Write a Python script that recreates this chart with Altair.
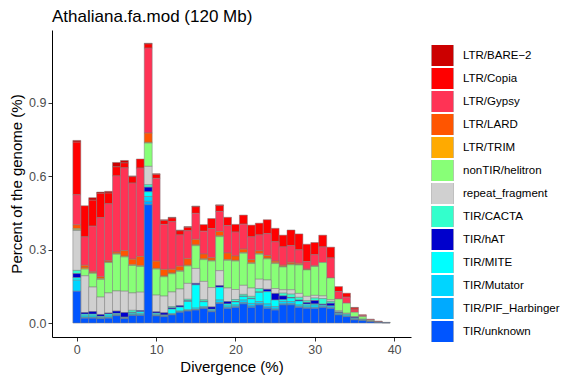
import altair as alt
import pandas as pd

categories = ["LTR/BARE−2", "LTR/Copia", "LTR/Gypsy", "LTR/LARD", "LTR/TRIM",
              "nonTIR/helitron", "repeat_fragment", "TIR/CACTA", "TIR/hAT",
              "TIR/MITE", "TIR/Mutator", "TIR/PIF_Harbinger", "TIR/unknown"]
colors = ["#CC0000", "#FF0000", "#FF3355", "#FF5500", "#FFAA00", "#88FF77",
          "#D0D0D0", "#33FFCC", "#0000CC", "#00FFFF", "#00D5FF", "#00AAFF", "#0055FF"]

divergence = list(range(40))

bare2 = [0.007,0,0.01,0.005,0.007,0.018,0.01,0.003,0,0.003,0.003,0.003,0.003,0.003,0.003,0.003,0,0,0.003,0,
         0,0,0,0,0,0,0,0,0,0,0,0,0,0,0,0.003,0,0,0.002,0]
copia = [0.215,0.127,0.106,0.1,0.044,0.037,0.02,0.026,0.037,0.017,0.016,0.016,0.015,0.017,0.014,0.027,0.027,0.041,0.024,0.034,
         0.031,0.037,0.048,0.048,0.057,0.055,0.048,0.064,0.065,0.071,0.05,0.048,0.044,0.02,0.016,0.007,0.003,0.002,0,0]
gypsy = [0.123,0.116,0.187,0.241,0.233,0.311,0.338,0.311,0.361,0.347,0.338,0.184,0.194,0.128,0.114,0.106,0.093,0.119,0.082,0.112,
         0.098,0.102,0.093,0.065,0.089,0.079,0.075,0.068,0.055,0.031,0.045,0.064,0.082,0.031,0.025,0.01,0.005,0.004,0.002,0]
lard = [0.015,0.011,0.004,0.007,0.005,0.007,0.023,0.023,0.038,0.038,0.03,0.027,0.016,0.018,0.027,0.023,0.02,0.011,0.018,0.027,
        0.018,0.014,0.013,0.011,0.011,0.007,0.005,0.007,0.005,0.003,0.003,0,0,0,0,0,0,0,0,0]
trim = [0.005,0.005,0.002,0.004,0.002,0.002,0.003,0.003,0.003,0.003,0.003,0.003,0.003,0.003,0.003,0.003,0.003,0.003,0.003,0.003,
        0.003,0.003,0.003,0.003,0.003,0.003,0.002,0.003,0.002,0,0,0,0,0,0,0,0,0,0,0]
helitron = [0.003,0.027,0.056,0.072,0.124,0.15,0.14,0.112,0.105,0.095,0.106,0.079,0.074,0.072,0.071,0.093,0.089,0.108,0.139,0.113,
            0.116,0.131,0.1,0.102,0.086,0.102,0.093,0.102,0.116,0.108,0.118,0.136,0.089,0.048,0.041,0.018,0.01,0.004,0.002,0.001]
fragment = [0.163,0.15,0.1,0.071,0.082,0.082,0.087,0.071,0.075,0.075,0.068,0.068,0.06,0.068,0.065,0.061,0.075,0.079,0.061,0.055,
            0.041,0.037,0.034,0.038,0.038,0.02,0.014,0.018,0.016,0.018,0.011,0.011,0.007,0.004,0.003,0.002,0.002,0,0,0.001]
cacta = [0.013,0,0,0,0,0,0,0.008,0,0.01,0,0,0.005,0,0.006,0,0.006,0,0,0,
         0.008,0.007,0.008,0.014,0,0,0.011,0.014,0.011,0.007,0.01,0.023,0.007,0.003,0,0.001,0,0,0,0]
hat = [0.017,0.007,0.011,0.008,0.004,0.01,0.019,0.002,0.005,0.019,0.006,0.009,0.005,0.006,0.003,0.006,0.002,0.01,0.007,0.01,
       0.002,0.002,0.002,0.002,0.01,0.027,0.016,0.002,0.004,0.007,0.014,0.004,0.011,0.003,0,0.004,0,0.001,0,0]
mite = [0.01,0.007,0.007,0.004,0.008,0.004,0.002,0.005,0.008,0.019,0.005,0.003,0.019,0.016,0.034,0.095,0.02,0.004,0.052,0.008,
        0.012,0.014,0.019,0.037,0.05,0.027,0.007,0.014,0.016,0.007,0.004,0,0,0,0.004,0,0.002,0,0,0]
mutator = [0.045,0.006,0.006,0.003,0.006,0.003,0.002,0.004,0.005,0.02,0.004,0.002,0.003,0.003,0.003,0.006,0.004,0.004,0.01,0.006,
           0.006,0.01,0.01,0.009,0.012,0.01,0.01,0.009,0.006,0.006,0.01,0.005,0.006,0.004,0.005,0.004,0.002,0,0,0]
pif = [0,0.003,0.003,0.002,0.003,0.002,0.002,0.002,0.002,0.014,0.002,0.002,0.002,0.002,0.002,0.002,0.003,0.002,0.004,0.004,
       0.004,0.006,0.006,0.005,0.006,0.004,0.004,0.005,0.004,0.004,0.004,0.004,0.004,0.003,0.002,0.002,0,0,0,0]
unknown = [0.13,0.02,0.02,0.018,0.02,0.03,0.018,0.031,0.031,0.483,0.029,0.026,0.033,0.044,0.049,0.053,0.06,0.046,0.08,0.06,
           0.064,0.078,0.064,0.074,0.06,0.053,0.074,0.074,0.064,0.06,0.06,0.064,0.06,0.033,0.026,0.013,0.01,0.005,0.002,0.001]

series = [bare2, copia, gypsy, lard, trim, helitron, fragment, cacta, hat, mite, mutator, pif, unknown]
for s in series:
    assert len(s) == len(divergence)

rows = []
for ci, (cat, vals) in enumerate(zip(categories, series)):
    for d, v in zip(divergence, vals):
        if v > 0:
            rows.append({"div": d, "cat": cat, "pct": v, "rank": len(categories) - ci})
df = pd.DataFrame(rows)

FONT = "Liberation Sans"

chart = alt.Chart(df).transform_calculate(
    x0="datum.div - 0.5", x1="datum.div + 0.5"
).mark_bar(stroke="#7a7a7a", strokeWidth=0.5).encode(
    x=alt.X("x0:Q", title="Divergence (%)",
            scale=alt.Scale(domain=[-2.5, 41.5], nice=False, zero=False),
            axis=alt.Axis(values=[0, 10, 20, 30, 40], format="d")),
    x2="x1:Q",
    y=alt.Y("sum(pct):Q", title="Percent of the genome (%)", stack="zero",
            scale=alt.Scale(domain=[-0.057, 1.197], nice=False, zero=False),
            axis=alt.Axis(values=[0, 0.3, 0.6, 0.9], format=".1f")),
    color=alt.Color("cat:N", title=None,
                    scale=alt.Scale(domain=categories, range=colors),
                    legend=alt.Legend(orient="none", legendX=379, legendY=15)),
    order=alt.Order("rank:Q", sort="ascending"),
).properties(
    width=359, height=307,
    autosize=alt.AutoSizeParams(type="none"),
    padding={"left": 44, "top": 22, "right": 157, "bottom": 39},
    title=alt.Title("Athaliana.fa.mod (120 Mb)", anchor="start", frame="group",
                    fontSize=17, font=FONT, fontWeight="normal", color="black", offset=4),
).configure_view(stroke=None).configure_axis(
    grid=False, domainColor="black", domainWidth=1, tickColor="#333333", tickSize=4,
    labelFont=FONT, labelFontSize=12.5, labelColor="#4D4D4D",
    titleFont=FONT, titleFontSize=15, titleColor="black", titleFontWeight="normal",
    labelPadding=2,
).configure_axisY(titlePadding=4).configure_axisX(titlePadding=4).configure_legend(
    symbolType="square", symbolSize=484, symbolStrokeColor="#999999", symbolStrokeWidth=0.5,
    labelFont=FONT, labelFontSize=11.5, labelColor="black", labelOffset=9,
    clipHeight=21, rowPadding=2, padding=0, symbolOpacity=1,
)

chart.save("out.html", embed_options={"renderer": "svg", "actions": False})
